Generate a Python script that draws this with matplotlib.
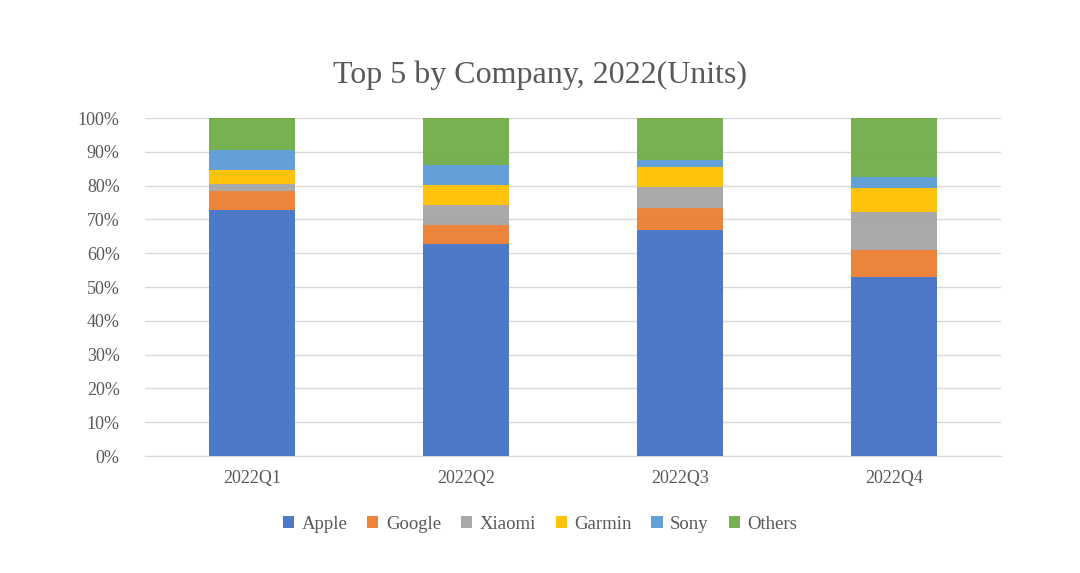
import matplotlib.pyplot as plt
import numpy as np
from matplotlib.ticker import PercentFormatter

plt.rcParams['font.family'] = ['Liberation Serif', 'DejaVu Serif']

quarters = ['2022Q1', '2022Q2', '2022Q3', '2022Q4']
companies = ['Apple', 'Google', 'Xiaomi', 'Garmin', 'Sony', 'Others']
colors = ['#4472c4', '#ed7d31', '#a5a5a5', '#ffc000', '#5b9bd5', '#70ad47']

# share of units (%) per quarter
apple = [72.8, 62.6, 66.9, 52.9]
google = [5.6, 5.8, 6.6, 8.0]
xiaomi = [2.1, 6.0, 6.0, 11.4]
garmin = [4.1, 5.8, 6.1, 7.0]
sony = [5.9, 5.8, 2.0, 3.2]
others = [9.5, 14.0, 12.4, 17.5]

series = np.array([apple, google, xiaomi, garmin, sony, others])
series = series / series.sum(axis=0) * 100

fig = plt.figure(figsize=(10.8, 5.73), dpi=100)
ax = fig.add_axes([0.134, 0.204, 0.793, 0.59])

x = np.arange(len(quarters))
bottom = np.zeros(len(quarters))
for name, vals, c in zip(companies, series, colors):
    ax.bar(x, vals, 0.4, bottom=bottom, color=c, label=name, zorder=3, alpha=0.95)
    bottom += vals

ax.set_xlim(-0.5, 3.5)
ax.set_ylim(0, 100)
ax.set_yticks(np.arange(0, 101, 10))
ax.yaxis.set_major_formatter(PercentFormatter(decimals=0))
ax.set_xticks(x)
ax.set_xticklabels(quarters)
ax.grid(axis='y', color='#d9d9d9', linewidth=1, zorder=0)
for s in ['top', 'right', 'left']:
    ax.spines[s].set_visible(False)
ax.spines['bottom'].set_color('#d9d9d9')
ax.tick_params(length=0, labelsize=13, colors='#595959', pad=10)
ax.tick_params(axis='y', pad=18)

fig.suptitle('Top 5 by Company, 2022(Units)', y=0.895, fontsize=23, color='#595959')
fig.legend(loc='center', bbox_to_anchor=(0.5, 0.085), ncol=6, frameon=False,
           fontsize=13.5, handlelength=0.6, handleheight=0.6, handletextpad=0.4,
           columnspacing=1.05, labelcolor='#595959')

fig.savefig('out.png', dpi=100)
